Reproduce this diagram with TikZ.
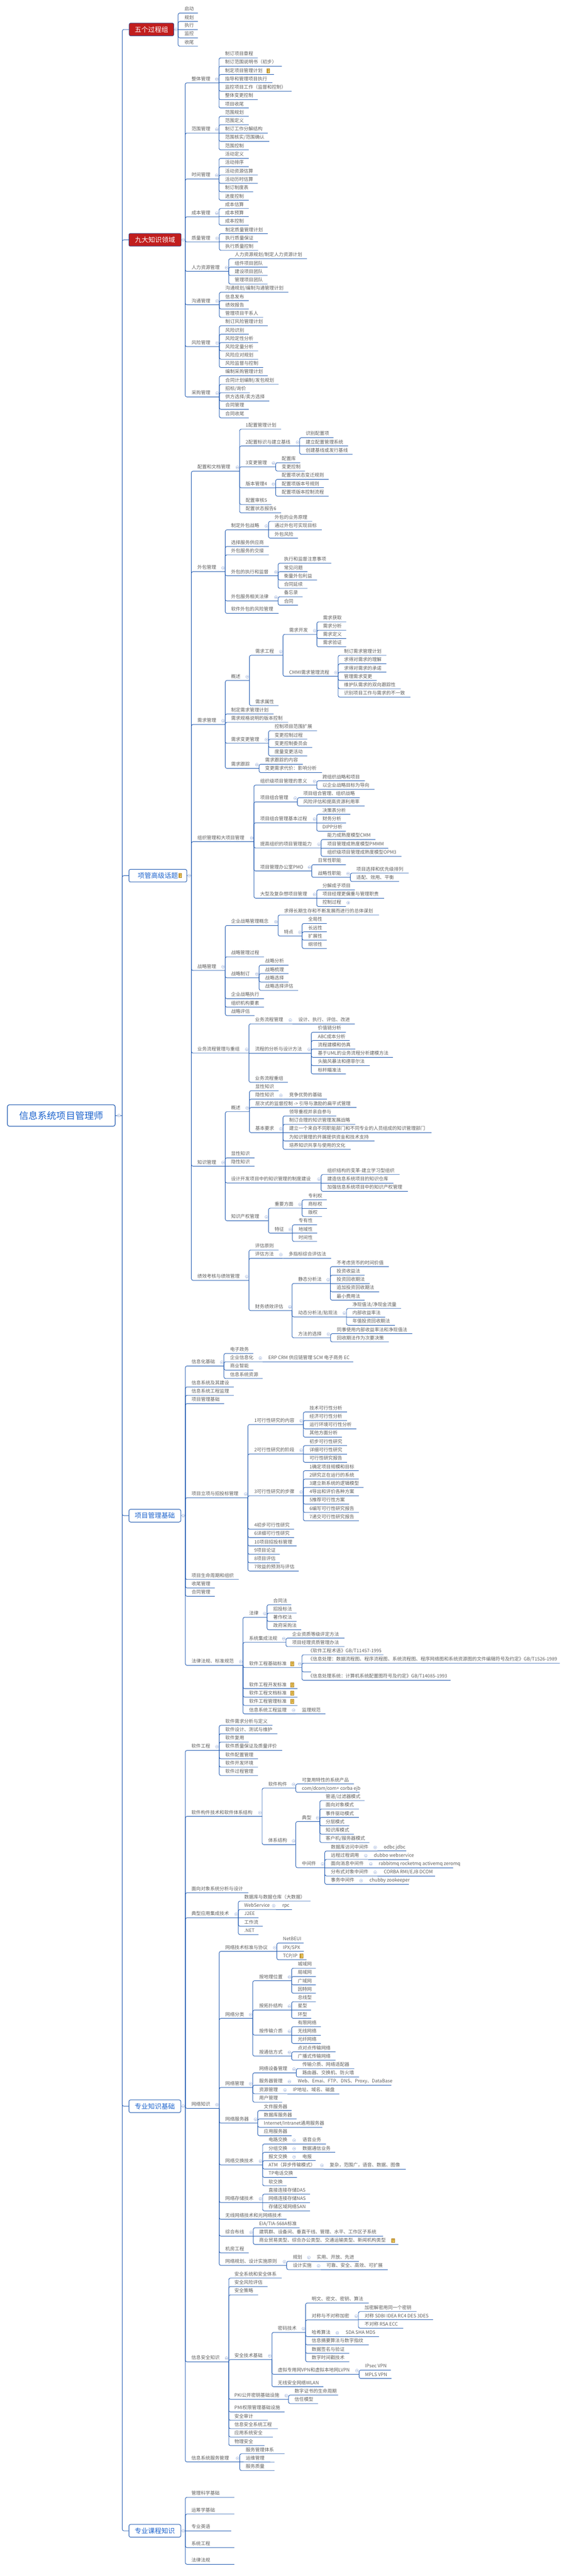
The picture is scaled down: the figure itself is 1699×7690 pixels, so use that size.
\documentclass[tikz,border=0pt]{standalone}
\usepackage{fontspec}
\setmainfont{Noto Sans CJK SC}
\definecolor{lineblue}{RGB}{30,88,176}
\definecolor{txtgray}{RGB}{95,95,95}
\definecolor{boxred}{RGB}{193,30,30}
\definecolor{boxedge}{RGB}{55,70,135}
\definecolor{boxtext}{RGB}{30,100,205}
\definecolor{circblue}{RGB}{150,172,215}
\definecolor{noteyel}{RGB}{246,214,110}
\definecolor{notebrown}{RGB}{170,120,20}
\tikzset{
  tx/.style={anchor=base west, inner sep=0pt, text=txtgray, font=\fontsize{14}{16}\selectfont},
  conn/.style={draw=lineblue, line width=1.4pt, rounded corners=5pt},
  redbox/.style={rounded corners=4pt, fill=boxred, draw=boxedge, line width=1.5pt, text=white,
    font=\fontsize{20}{22}\selectfont, minimum height=38pt, inner sep=0pt},
  bluebox/.style={rounded corners=5pt, fill=white, draw=lineblue, line width=1.5pt, text=boxtext,
    font=\fontsize{20}{22}\selectfont, minimum height=38pt, inner sep=0pt},
  rootbox/.style={rounded corners=6pt, fill=white, draw=lineblue, line width=1.8pt, text=boxtext,
    font=\fontsize{28}{30}\selectfont, minimum height=64pt, minimum width=322pt, inner sep=0pt}
}
\newdimen\kya \newdimen\kyb
\newcommand\lnd[5]{\node[tx] (#1) at (#2,#3-7) {#5};\coordinate (#1-e) at (#4,#3);}
\newcommand\ccirc[2]{\draw[circblue, fill=white, line width=0.7pt] (#1,#2) circle [radius=4.5pt];
  \draw[circblue, line width=0.8pt] (#1-2.5,#2) -- (#1+2.5,#2);}
\newcommand\pnd[5]{\lnd{#1}{#2}{#3}{#4}{#5}\ccirc{#4-6.5}{#3-11}}
\newcommand\XT{0}
\newcommand\lv[4]{\lnd{#1}{\XT}{#2}{#3}{#4}}
\newcommand\pv[4]{\pnd{#1}{\XT}{#2}{#3}{#4}}
\newcommand\kids[2]{\foreach \kk in {#2}{%
  \pgfextracty{\kya}{\pgfpointanchor{#1-e}{center}}%
  \pgfextracty{\kyb}{\pgfpointanchor{\kk-e}{center}}%
  \kya=\dimexpr\kya-\kyb\relax
  \ifdim\kya<0pt \kya=-\kya\fi
  \ifdim\kya<3pt \draw[conn] (#1-e) -- (\kk-e);\else\draw[conn] (#1-e) |- (\kk-e);\fi}}
\newcommand\notei[2]{\draw[notebrown, fill=noteyel, line width=0.8pt] (#1-4.5,#2-6) rectangle (#1+4.5,#2+6);
  \draw[notebrown, line width=0.8pt] (#1-2.5,#2-3)--(#1+2.5,#2-3) (#1-2.5,#2)--(#1+2.5,#2) (#1-2.5,#2+3)--(#1+1,#2+3);}
\begin{document}
\begin{tikzpicture}[x=1pt,y=-1pt]
\useasboundingbox (0,0) rectangle (1699,7690);
\fill[white] (0,0) rectangle (1699,7690);

% ---------------- root
\node[rootbox] (root) at (183,3330) {信息系统项目管理师};
\coordinate (root-e) at (365,3330);
\draw[conn] (root.east) -- (root-e);
\ccirc{355}{3330}

% ---------------- 五个过程组
\node[redbox, minimum width=133pt] (g1) at (452.5,88) {五个过程组};
\coordinate (g1-e) at (532,88);
\draw[conn] (g1.east) -- (g1-e); \ccirc{525.5}{88}
\renewcommand\XT{551}
\lv{qa}{39}{591}{启动}\lv{qb}{64}{591}{规划}\lv{qc}{88}{591}{执行}\lv{qd}{113}{591}{监控}\lv{qe}{138}{591}{收尾}
\kids{g1}{qa,qb,qc,qd,qe}

% ---------------- 九大知识领域
\node[redbox, minimum width=156pt] (g2) at (463,716) {九大知识领域};
\coordinate (g2-e) at (553,716);
\draw[conn] (g2.east) -- (g2-e); \ccirc{547}{716}
\renewcommand\XT{572}
\pv{za}{247.4}{654}{整体管理}\pv{zb}{397.2}{654}{范围管理}\pv{zc}{534.5}{654}{时间管理}
\pv{zd}{647.4}{654}{成本管理}\pv{ze}{722.5}{655}{质量管理}\pv{zf}{810}{683}{人力资源管理}
\pv{zg}{909.8}{655}{沟通管理}\pv{zh}{1034.8}{655}{风险管理}\pv{zi}{1184.7}{655}{采购管理}
\kids{g2}{za,zb,zc,zd,ze,zf,zg,zh,zi}
\renewcommand\XT{672}
\lv{za1}{172.7}{770}{制订项目章程}
\lv{za2}{197.6}{842}{制订范围说明书（初步）}
\lv{za3}{222.5}{818}{制定项目管理计划}\notei{801}{210.5}
\lv{za4}{247.4}{814}{指导和管理项目执行}
\lv{za5}{272.3}{871}{监控项目工作（监督和控制）}
\lv{za6}{297.6}{770}{整体变更控制}
\lv{za7}{322.5}{743}{项目收尾}
\kids{za}{za1,za2,za3,za4,za5,za6,za7}
\lv{zb1}{347.4}{743}{范围规划}\lv{zb2}{372.3}{743}{范围定义}\lv{zb3}{397.2}{800}{制订工作分解结构}
\lv{zb4}{422}{804}{范围核实/范围确认}\lv{zb5}{447.4}{743}{范围控制}
\kids{zb}{zb1,zb2,zb3,zb4,zb5}
\lv{zc1}{472.7}{743}{活动定义}\lv{zc2}{497.6}{743}{活动排序}\lv{zc3}{522.5}{770}{活动资源估算}
\lv{zc4}{547.4}{770}{活动历时估算}\lv{zc5}{572.3}{756}{制订制度表}\lv{zc6}{597.6}{743}{进度控制}
\kids{zc}{zc1,zc2,zc3,zc4,zc5,zc6}
\lv{zd1}{622.5}{743}{成本估算}\lv{zd2}{647.4}{743}{成本预算}\lv{zd3}{672.2}{743}{成本控制}
\kids{zd}{zd1,zd2,zd3}
\renewcommand\XT{673}
\lv{ze1}{697.6}{800}{制定质量管理计划}\lv{ze2}{722.5}{771}{执行质量保证}\lv{ze3}{747.4}{771}{执行质量控制}
\kids{ze}{ze1,ze2,ze3}
\renewcommand\XT{701}
\lv{zf1}{772.3}{917}{人力资源规划/制定人力资源计划}\lv{zf2}{797.6}{799}{组件项目团队}
\lv{zf3}{822.5}{799}{建设项目团队}\lv{zf4}{847.8}{799}{管理项目团队}
\kids{zf}{zf1,zf2,zf3,zf4}
\renewcommand\XT{673}
\lv{zg1}{872.3}{861}{沟通规划/编制沟通管理计划}\lv{zg2}{897.6}{743}{信息发布}
\lv{zg3}{922.5}{743}{绩效报告}\lv{zg4}{947.4}{786}{管理项目干系人}
\kids{zg}{zg1,zg2,zg3,zg4}
\lv{zh1}{972.3}{800}{制订风险管理计划}\lv{zh2}{997.6}{743}{风险识别}\lv{zh3}{1022.5}{771}{风险定性分析}
\lv{zh4}{1047.4}{771}{风险定量分析}\lv{zh5}{1072.3}{771}{风险应对规划}\lv{zh6}{1097.2}{786}{风险监督与控制}
\kids{zh}{zh1,zh2,zh3,zh4,zh5,zh6}
\lv{zi1}{1122}{800}{编制采购管理计划}\lv{zi2}{1147.4}{832}{合同计划编制/发包规划}\lv{zi3}{1172.3}{746}{招标/询价}
\lv{zi4}{1197.2}{804}{供方选择/卖方选择}\lv{zi5}{1222}{743}{合同管理}\lv{zi6}{1247.4}{743}{合同收尾}
\kids{zi}{zi1,zi2,zi3,zi4,zi5,zi6}

% ---------------- 项管高级话题
\node[bluebox, minimum width=173pt] (g3) at (471.5,2614) {项管高级话题\hspace{20pt}};
\notei{538}{2614}
\coordinate (g3-e) at (571.5,2614);
\draw[conn] (g3.east) -- (g3-e); \ccirc{565}{2614}
\renewcommand\XT{589.6}
\pv{ka}{1406.5}{715.5}{配置和文档管理}\pv{kb}{1706.4}{672.7}{外包管理}\pv{kc}{2162.6}{672.7}{需求管理}
\pv{kd}{2512.5}{758.4}{组织管理和大项目管理}\pv{ke}{2897.2}{672.7}{战略管理}
\pv{kf}{3143.7}{743.6}{业务流程管理与重组}\pv{kg}{3481.3}{672.7}{知识管理}\pv{kh}{3822}{743.6}{绩效考核与绩效管理}
\kids{g3}{ka,kb,kc,kd,ke,kf,kg,kh}
% 配置和文档管理
\renewcommand\XT{733.6}
\lv{ka1}{1281.2}{839.4}{1配置管理计划}
\pv{ka2}{1331.4}{895}{2配置标识与建立基线}
\pv{ka3}{1393.7}{823.3}{3变更管理}
\pv{ka4}{1456.3}{823.3}{版本管理4}
\lv{ka5}{1506}{810.6}{配置审核5}
\lv{ka6}{1531}{839.4}{配置状态报告6}
\kids{ka}{ka1,ka2,ka3,ka4,ka5,ka6}
\renewcommand\XT{913}
\lv{ka21}{1306.5}{996}{识别配置项}\lv{ka22}{1331.4}{1039.6}{建立配置管理系统}\lv{ka23}{1356.3}{1053}{创建基线或发行基线}
\kids{ka2}{ka21,ka22,ka23}
\renewcommand\XT{841.4}
\lv{ka31}{1381.2}{897}{配置库}\lv{ka32}{1406.1}{911}{变更控制}
\kids{ka3}{ka31,ka32}
\lv{ka41}{1431}{982}{配置项状态变迁规则}\lv{ka42}{1456.3}{968}{配置项版本号规则}\lv{ka43}{1481.2}{982}{配置项版本控制流程}
\kids{ka4}{ka41,ka42,ka43}
% 外包管理
\renewcommand\XT{690}
\pv{kb1}{1581.7}{802}{制定外包战略}
\lv{kb2}{1631.5}{803}{选择服务供应商}
\lv{kb3}{1656.4}{803}{外包服务的交接}
\pv{kb4}{1718.8}{830.7}{外包的执行和监督}
\pv{kb5}{1793.9}{830.7}{外包服务相关法律}
\lv{kb6}{1831}{832}{软件外包的风险管理}
\kids{kb}{kb1,kb2,kb3,kb4,kb5,kb6}
\renewcommand\XT{820}
\lv{kb11}{1556.4}{932.5}{外包的业务原理}\lv{kb12}{1581.7}{960.6}{通过外包可实现目标}\lv{kb13}{1606.6}{890}{外包风险}
\kids{kb1}{kb11,kb12,kb13}
\renewcommand\XT{848}
\lv{kb41}{1681.3}{989.4}{执行和监督注意事项}\lv{kb42}{1706.6}{918.4}{常见问题}
\lv{kb43}{1731.5}{947}{衡量外包利益}\lv{kb44}{1756.4}{918.4}{合同延续}
\kids{kb4}{kb41,kb42,kb43,kb44}
\lv{kb51}{1781.3}{903.7}{备忘录}\lv{kb52}{1806.6}{890}{合同}
\kids{kb5}{kb51,kb52}
% 需求管理
\renewcommand\XT{690}
\pv{kc1}{2031.4}{745}{概述}
\lv{kc2}{2131.4}{817.3}{制定需求管理计划}
\lv{kc3}{2156.3}{860.8}{需求规格说明的版本控制}
\pv{kc4}{2218.9}{802}{需求变更管理}
\pv{kc5}{2293.8}{773.8}{需求跟踪}
\kids{kc}{kc1,kc2,kc3,kc4,kc5}
\renewcommand\XT{762.4}
\pv{kc11}{1956.2}{845.4}{需求工程}
\lv{kc12}{2106.6}{832}{需求属性}
\kids{kc1}{kc11,kc12}
\renewcommand\XT{863.5}
\pv{kc111}{1893.7}{946.5}{需求开发}
\pv{kc112}{2018.75}{1010}{CMMI需求管理流程}
\kids{kc11}{kc111,kc112}
\renewcommand\XT{964.6}
\lv{kc1111}{1856.4}{1034}{需求获取}\lv{kc1112}{1881.3}{1034}{需求分析}\lv{kc1113}{1906.2}{1034}{需求定义}\lv{kc1114}{1931}{1034}{需求验证}
\kids{kc111}{kc1111,kc1112,kc1113,kc1114}
\renewcommand\XT{1027.5}
\lv{kc1121}{1956.3}{1154}{制订需求管理计划}\lv{kc1122}{1981.6}{1154}{求得对需求的理解}
\lv{kc1123}{2006.5}{1154}{求得对需求的承诺}\lv{kc1124}{2031.4}{1125.3}{管理需求变更}
\lv{kc1125}{2056.3}{1197}{维护队需求的双向跟踪性}\lv{kc1126}{2081.2}{1225.8}{识别项目工作与需求的不一致}
\kids{kc112}{kc1121,kc1122,kc1123,kc1124,kc1125,kc1126}
\renewcommand\XT{820}
\lv{kc41}{2181.3}{947}{控制项目范围扩展}\lv{kc42}{2206.6}{917.7}{变更控制过程}
\lv{kc43}{2231.5}{932.5}{变更控制委员会}\lv{kc44}{2256.4}{917.7}{度量变更活动}
\kids{kc4}{kc41,kc42,kc43,kc44}
\renewcommand\XT{791.8}
\lv{kc51}{2281.3}{904.3}{需求跟踪的内容}\lv{kc52}{2306.2}{962}{变更需求代价：影响分析}
\kids{kc5}{kc51,kc52}
% 组织管理和大项目管理
\renewcommand\XT{777}
\pv{kd1}{2343.7}{946}{组织级项目管理的意义}
\pv{kd2}{2393.8}{888.3}{项目组合管理}
\pv{kd3}{2456.4}{946}{项目组合管理基本过程}
\pv{kd4}{2531.5}{959.2}{提高组织的项目管理能力}
\pv{kd5}{2600.1}{931}{项目管理办公室PMO}
\pv{kd6}{2681.2}{946}{大型及复杂想项目管理}
\kids{kd}{kd1,kd2,kd3,kd4,kd5,kd6}
\renewcommand\XT{963}
\lv{kd11}{2331}{1090}{跨组织战略和项目}\lv{kd12}{2356.4}{1118.6}{以企业战略目标为导向}
\kids{kd1}{kd11,kd12}
\renewcommand\XT{905.7}
\lv{kd21}{2381.3}{1074.4}{项目组合管理、组织战略}\lv{kd22}{2406.2}{1089}{风险评估和提高资源利用率}
\kids{kd2}{kd21,kd22}
\renewcommand\XT{963}
\lv{kd31}{2431}{1046.3}{决策表分析}\lv{kd32}{2456.4}{1033}{财务分析}\lv{kd33}{2481.3}{1033}{DIPP分析}
\kids{kd3}{kd31,kd32,kd33}
\renewcommand\XT{977.3}
\lv{kd41}{2506.2}{1121.3}{能力成熟度模型CMM}\lv{kd42}{2531.5}{1160}{项目管理成熟度模型PMMM}
\lv{kd43}{2556.4}{1199}{组织级项目管理成熟度模型OPM3}
\kids{kd4}{kd41,kd42,kd43}
\renewcommand\XT{949.2}
\lv{kd51}{2581.2}{1033}{日常性职能}\pv{kd52}{2619}{1046.3}{战略性职能}
\kids{kd5}{kd51,kd52}
\renewcommand\XT{1064.4}
\lv{kd521}{2606.5}{1220.4}{项目选择和优先级排列}\lv{kd522}{2631.4}{1191.6}{适配、效用、平衡}
\kids{kd52}{kd521,kd522}
\renewcommand\XT{963}
\lv{kd61}{2656.3}{1060}{分解成子项目}\lv{kd62}{2681.2}{1147.4}{项目经理更偏重与管理职责}\lv{kd63}{2706.1}{1033}{控制过程}
\kids{kd6}{kd61,kd62,kd63}
\draw[circblue, fill=white, line width=0.7pt] (1040,2695) circle [radius=4.5pt];
\draw[circblue, line width=0.8pt] (1037.5,2695) -- (1042.5,2695) (1040,2692.5) -- (1040,2697.5);
% 战略管理
\renewcommand\XT{690}
\pv{ke1}{2762.8}{830.7}{企业战略管理概念}
\lv{ke2}{2856.4}{788.5}{战略管理过程}
\pv{ke3}{2918.9}{773.8}{战略制订}
\lv{ke4}{2981.3}{788.5}{企业战略执行}
\lv{ke5}{3006.6}{788.5}{组织机构要素}
\lv{ke6}{3031.5}{760.4}{战略评估}
\kids{ke}{ke1,ke2,ke3,ke4,ke5,ke6}
\renewcommand\XT{848}
\lv{ke11}{2731.4}{1132}{求得长期生存和不断发展而进行的总体谋划}\pv{ke12}{2794.2}{902.3}{特点}
\kids{ke1}{ke11,ke12}
\renewcommand\XT{920.4}
\lv{ke121}{2756.8}{976}{全局性}\lv{ke122}{2781.7}{976}{长远性}\lv{ke123}{2806.6}{976}{扩展性}\lv{ke124}{2831.5}{976}{纲领性}
\kids{ke12}{ke121,ke122,ke123,ke124}
\renewcommand\XT{791.8}
\lv{ke31}{2881.3}{862}{战略分析}\lv{ke32}{2906.6}{862}{战略梳理}\lv{ke33}{2931.5}{862}{战略选择}\lv{ke34}{2956.4}{890.3}{战略选择评估}
\kids{ke3}{ke31,ke32,ke33,ke34}
% 业务流程管理与重组
\renewcommand\XT{761.7}
\pv{kf1}{3056.4}{873.5}{业务流程管理}
\pv{kf2}{3143.7}{929.8}{流程的分析与设计方法}
\lv{kf3}{3231}{859.5}{业务流程重组}
\kids{kf}{kf1,kf2,kf3}
\lnd{kf11}{891}{3056.4}{1059.7}{设计、执行、评估、改进}
\kids{kf1}{kf11}
\renewcommand\XT{949.2}
\lv{kf21}{3081.3}{1033}{价值链分析}\lv{kf22}{3106.2}{1044.3}{ABC成本分析}\lv{kf23}{3131.5}{1061}{流程建模和仿真}
\lv{kf24}{3156.4}{1173.5}{基于UML的业务流程分析建模方法}\lv{kf25}{3181.3}{1104.5}{头脑风暴法和德菲尔法}\lv{kf26}{3206.1}{1033}{标杆瞄准法}
\kids{kf2}{kf21,kf22,kf23,kf24,kf25,kf26}
% 知识管理
\renewcommand\XT{690}
\pv{kg1}{3318.6}{745}{概述}
\lv{kg2}{3456.3}{760.4}{显性知识}
\lv{kg3}{3481.2}{760.4}{隐性知识}
\pv{kg4}{3531.3}{959.2}{设计开发项目中的知识管理的制度建设}
\pv{kg5}{3644}{802}{知识产权管理}
\kids{kg}{kg1,kg2,kg3,kg4,kg5}
\renewcommand\XT{762.4}
\lv{kg11}{3256}{832}{显性知识}
\pv{kg12}{3281.2}{845.4}{隐性知识}
\lv{kg13}{3306.1}{1065}{层次式的监督控制 -> 引导与激励的扁平式管理}
\pv{kg14}{3381.2}{845.4}{基本要求}
\kids{kg1}{kg11,kg12,kg13,kg14}
\lnd{kg121}{863.5}{3281.2}{976}{竞争优势的基础}
\kids{kg12}{kg121}
\renewcommand\XT{863.5}
\lv{kg141}{3331.4}{1004}{领导重视并亲自参与}\lv{kg142}{3356.3}{1061}{制订合理的知识管理发展战略}
\lv{kg143}{3381.2}{1289.4}{建立一个来自不同职能部门和不同专业的人员组成的知识管理部门}
\lv{kg144}{3406.1}{1118.6}{为知识管理的开展提供资金和技术支持}\lv{kg145}{3431}{1047.6}{培养知识共享与使用的文化}
\kids{kg14}{kg141,kg142,kg143,kg144,kg145}
\renewcommand\XT{977.3}
\lv{kg41}{3506.2}{1193.6}{组织结构的变革-建立学习型组织}\lv{kg42}{3531.3}{1175.6}{建造信息系统项目的知识仓库}
\lv{kg43}{3556.4}{1218.4}{加强信息系统项目中的知识产权管理}
\kids{kg4}{kg41,kg42,kg43}
\renewcommand\XT{820}
\pv{kg51}{3606.6}{902.3}{重要方面}\pv{kg52}{3681.3}{873.5}{特征}
\kids{kg5}{kg51,kg52}
\renewcommand\XT{920.4}
\lv{kg511}{3581.7}{976}{专利权}\lv{kg512}{3606.6}{976}{商标权}\lv{kg513}{3631.5}{962}{版权}
\kids{kg51}{kg511,kg512,kg513}
\renewcommand\XT{891.6}
\lv{kg521}{3656.4}{947}{专有性}\lv{kg522}{3681.3}{947}{地域性}\lv{kg523}{3706.2}{947}{时间性}
\kids{kg52}{kg521,kg522,kg523}
% 绩效考核与绩效管理
\renewcommand\XT{761.7}
\lv{kh1}{3731.5}{832}{评估原则}
\pv{kh2}{3756.4}{845.4}{评估方法}
\pv{kh3}{3912.5}{872.3}{财务绩效评估}
\kids{kh}{kh1,kh2,kh3}
\lnd{kh21}{862}{3756.4}{989.4}{多指标综合评估法}
\kids{kh2}{kh21}
\renewcommand\XT{890.5}
\pv{kh31}{3831.3}{986.7}{静态分析法}\pv{kh32}{3931.2}{1035}{动态分析法/贴现法}\pv{kh33}{3993.7}{987.3}{方法的选择}
\kids{kh3}{kh31,kh32,kh33}
\renewcommand\XT{1005.5}
\lv{kh311}{3781.3}{1161.5}{不考虑货币的时间价值}\lv{kh312}{3806.6}{1089}{投资收益法}\lv{kh313}{3831.3}{1104.5}{投资回收期法}
\lv{kh314}{3856.3}{1132.5}{追加投资回收期法}\lv{kh315}{3881.2}{1089}{最小费用法}
\kids{kh31}{kh311,kh312,kh313,kh314,kh315}
\renewcommand\XT{1052.6}
\lv{kh321}{3906.1}{1197.8}{净现值法/净现金流量}\lv{kh322}{3931.2}{1150}{内部收益率法}\lv{kh323}{3956.3}{1179.5}{年值投资回收期法}
\kids{kh32}{kh321,kh322,kh323}
\renewcommand\XT{1006.3}
\lv{kh331}{3981.2}{1231.4}{同事使用内部收益率法和净现值法}\lv{kh332}{4006.1}{1161.3}{回收期法作为次要决策}
\kids{kh33}{kh331,kh332}

% ---------------- 项目管理基础
\node[bluebox, minimum width=155pt] (g4) at (462.5,4524.6) {项目管理基础};
\coordinate (g4-e) at (553.6,4524.6);
\draw[conn] (g4.east) -- (g4-e); \ccirc{547}{4524.6}
\renewcommand\XT{572}
\pv{ma}{4077.8}{668.8}{信息化基础}
\lv{mb}{4140.4}{698.3}{信息系统及其建设}
\lv{mc}{4165.3}{698.3}{信息系统工程监理}
\lv{md}{4190.2}{669.5}{项目管理基础}
\pv{me}{4471.2}{740.4}{项目立项与招投标管理}
\lv{mf}{4715.1}{713.2}{项目生命周期和组织}
\lv{mg}{4740.3}{641.4}{收尾管理}
\lv{mh}{4765.2}{641.4}{合同管理}
\pv{mi}{4971.5}{725.7}{法律法规、标准规范}
\kids{g4}{ma,mb,mc,md,me,mf,mg,mh,mi}
\renewcommand\XT{687}
\lv{ma1}{4040.4}{756.5}{电子政务}\pv{ma2}{4065.3}{784}{企业信息化}\lv{ma3}{4090.2}{756.5}{商业智能}\lv{ma4}{4115.3}{784.6}{信息系统资源}
\kids{ma}{ma1,ma2,ma3,ma4}
\lnd{ma21}{801.4}{4065.3}{1055.4}{ERP CRM 供应链管理 SCM 电子商务 EC}
\kids{ma2}{ma21}
\renewcommand\XT{759.3}
\pv{me1}{4252.6}{906}{1可行性研究的内容}
\pv{me2}{4340.4}{906}{2可行性研究的阶段}
\pv{me3}{4465.2}{906}{3可行性研究的步骤}
\lv{me4}{4565}{878.2}{4初步可行性研究}
\lv{me5}{4590}{878.2}{6详细可行性研究}
\lv{me6}{4615}{885.6}{10项目招投标管理}
\lv{me7}{4640}{835.7}{9项目论证}
\lv{me8}{4665}{835.7}{8项目评估}
\lv{me9}{4689.8}{892.2}{7效益的预测与评估}
\kids{me}{me1,me2,me3,me4,me5,me6,me7,me8,me9}
\renewcommand\XT{924.2}
\lv{me11}{4215.1}{1036.4}{技术可行性分析}\lv{me12}{4240.4}{1036.4}{经济可行性分析}
\lv{me13}{4265.3}{1064.5}{运行环境可行性分析}\lv{me14}{4290.2}{1021}{其他方面分析}
\kids{me1}{me11,me12,me13,me14}
\lv{me21}{4315.5}{1036.4}{初步可行性研究}\lv{me22}{4340.4}{1036.4}{详细可行性研究}\lv{me23}{4365.4}{1036.4}{可行性研究报告}
\kids{me2}{me21,me22,me23}
\lv{me31}{4390.3}{1071.5}{1确定项目规模和目标}\lv{me32}{4415.3}{1071.5}{2研究正在运行的系统}
\lv{me33}{4440.3}{1085.5}{3建立新系统的逻辑模型}\lv{me34}{4465.2}{1071.5}{4导出和评价各种方案}
\lv{me35}{4490.2}{1043}{5推荐可行性方案}\lv{me36}{4515.1}{1071.8}{6编写可行性研究报告}\lv{me37}{4540}{1071.8}{7递交可行性研究报告}
\kids{me3}{me31,me32,me33,me34,me35,me36,me37}
\renewcommand\XT{744}
\pv{mi1}{4827.8}{797.6}{法律}
\pv{mi2}{4902.7}{854}{系统集成法规}
\pv{mi3}{4978}{901.7}{软件工程基础标准}\notei{872.4}{4966}
\lv{mi4}{5041}{888.5}{软件工程开发标准}\notei{872.4}{5029}
\lv{mi5}{5066.2}{888.5}{软件工程文档标准}\notei{872.4}{5054.2}
\lv{mi6}{5091.1}{888.5}{软件工程管理标准}\notei{872.4}{5079.1}
\pv{mi7}{5116.3}{883.4}{信息系统工程监理}
\kids{mi}{mi1,mi2,mi3,mi4,mi5,mi6,mi7}
\renewcommand\XT{816}
\lv{mi11}{4790.5}{870}{合同法}\lv{mi12}{4815.4}{885.6}{招投标法}\lv{mi13}{4840.3}{885.6}{著作权法}\lv{mi14}{4865.2}{899.5}{政府采购法}
\kids{mi1}{mi11,mi12,mi13,mi14}
\renewcommand\XT{872.4}
\lv{mi21}{4890.1}{1028.6}{企业资质等级评定方法}\lv{mi22}{4915.4}{1028.6}{项目经理资质管理办法}
\kids{mi2}{mi21,mi22}
\renewcommand\XT{920}
\lv{mi31}{4940}{1145.2}{《软件工程术语》GB/T11457-1995}
\lv{mi32}{4965}{1672}{《信息处理：数据流程图、程序流程图、系统流程图、程序网络图和系统资源图的文件编辑符号及约定》GB/T1526-1989}
\lv{mi33}{4991}{929}{}
\lv{mi34}{5016}{1345.4}{《信息处理系统：计算机系统配置图符号及约定》GB/T14085-1993}
\kids{mi3}{mi31,mi32,mi33,mi34}
\lnd{mi71}{901.7}{5116.3}{971.4}{监理规范}
\kids{mi7}{mi71}

% ---------------- 专业知识基础
\node[bluebox, minimum width=155pt] (g5) at (462.5,6287.5) {专业知识基础};
\coordinate (g5-e) at (553.4,6287.5);
\draw[conn] (g5.east) -- (g5-e); \ccirc{547}{6287.5}
\renewcommand\XT{571.7}
\pv{na}{5225.3}{654.6}{软件工程}
\pv{nb}{5422.3}{782.9}{软件构件技术和软件体系结构}
\lv{nc}{5650.3}{741.8}{面向对象系统分析与设计}
\pv{nd}{5725.2}{711.8}{典型应用集成技术}
\pv{ne}{6294}{654.6}{网络知识}
\pv{nf}{7050.6}{683.2}{信息安全知识}
\pv{ng}{7349.5}{716}{信息系统服务管理}
\kids{g5}{na,nb,nc,nd,ne,nf,ng}
\renewcommand\XT{673}
\lv{na1}{5150.5}{813.7}{软件需求分析与定义}\lv{na2}{5175.4}{828.4}{软件设计、测试与维护}\lv{na3}{5200.3}{742.6}{软件复用}
\lv{na4}{5225.3}{843}{软件质量保证及质量评价}\lv{na5}{5250.4}{770.4}{软件配置管理}\lv{na6}{5275.3}{770.4}{软件开发环境}
\lv{na7}{5300.2}{770.4}{软件过程管理}
\kids{na}{na1,na2,na3,na4,na5,na6,na7}
\renewcommand\XT{801.2}
\pv{nb1}{5337.9}{883.4}{软件构件}\pv{nb2}{5506.6}{883.4}{体系结构}
\kids{nb}{nb1,nb2}
\renewcommand\XT{901.7}
\lv{nb11}{5325.5}{1057.2}{可复用特性的系统产品}\lv{nb12}{5350.4}{1074}{com/dcom/com+ corba ejb}
\kids{nb1}{nb11,nb12}
\pv{nb21}{5437.8}{955.2}{典型}\pv{nb22}{5575.4}{970}{中间件}
\kids{nb2}{nb21,nb22}
\renewcommand\XT{972.8}
\lv{nb211}{5375.3}{1088.7}{管道/过滤器模式}\lv{nb212}{5400.2}{1071.8}{面向对象模式}\lv{nb213}{5425.5}{1071.8}{事件驱动模式}
\lv{nb214}{5450.4}{1043.3}{分层模式}\lv{nb215}{5475.3}{1057.2}{知识库模式}\lv{nb216}{5500.2}{1103.4}{客户机/服务器模式}
\kids{nb21}{nb211,nb212,nb213,nb214,nb215,nb216}
\renewcommand\XT{988.3}
\pv{nb221}{5525.8}{1127}{数据库访问中间件}\pv{nb222}{5550.6}{1099}{远程过程调用}\pv{nb223}{5575.4}{1114}{面向消息中间件}
\pv{nb224}{5600.2}{1127}{分布式对象中间件}\pv{nb225}{5625.1}{1085}{事务中间件}
\kids{nb22}{nb221,nb222,nb223,nb224,nb225}
\lnd{nb2211}{1146}{5525.8}{1213.4}{odbc jdbc}\kids{nb221}{nb2211}
\lnd{nb2221}{1116.6}{5550.6}{1221}{dubbo webservice}\kids{nb222}{nb2221}
\lnd{nb2231}{1131.3}{5575.4}{1354}{rabbitmq rocketmq activemq zeromq}\kids{nb223}{nb2231}
\lnd{nb2241}{1146}{5600.2}{1300}{CORBA RMI/EJB DCOM}\kids{nb224}{nb2241}
\lnd{nb2251}{1103.4}{5625.1}{1220.7}{chubby zookeeper}\kids{nb225}{nb2251}
\renewcommand\XT{729.4}
\lv{nd1}{5675.2}{927.4}{数据库与数据仓库（大数据）}\pv{nd2}{5700.1}{824}{WebService}\lv{nd3}{5725.2}{772}{J2EE}
\lv{nd4}{5750.3}{785}{工作流}\lv{nd5}{5775.2}{772}{.NET}
\kids{nd}{nd1,nd2,nd3,nd4,nd5}
\lnd{nd21}{843}{5700.1}{872.4}{rpc}\kids{nd2}{nd21}
% 网络知识
\renewcommand\XT{673}
\pv{ne1}{5825.3}{826.9}{网络技术标准与协议}
\pv{ne2}{6025.3}{755}{网络分类}
\pv{ne3}{6231.6}{755}{网络管理}
\pv{ne4}{6337.9}{769.7}{网络服务器}
\pv{ne5}{6462.7}{784.4}{网络交换技术}
\pv{ne6}{6575.1}{784.4}{网络存储技术}
\lv{ne7}{6625.1}{856.2}{无线网络技术和光网络技术}
\pv{ne8}{6675.3}{756.5}{综合布线}
\lv{ne9}{6725.4}{742.6}{机房工程}
\pv{ne10}{6762.8}{856.2}{网络规划、设计实施原则}
\kids{ne}{ne1,ne2,ne3,ne4,ne5,ne6,ne7,ne8,ne9,ne10}
\renewcommand\XT{845.2}
\lv{ne11}{5800.4}{906.9}{NetBEUI}\lv{ne12}{5825.3}{906.9}{IPX/SPX}\lv{ne13}{5850.3}{915.6}{TCP/IP}\notei{899.5}{5838.3}
\kids{ne1}{ne11,ne12,ne13}
\renewcommand\XT{774}
\pv{ne21}{5912.9}{871}{按地理位置}\pv{ne22}{6000.4}{871}{按拓扑结构}\pv{ne23}{6075.2}{871}{按传输介质}\pv{ne24}{6137.8}{871}{按通信方式}
\kids{ne2}{ne21,ne22,ne23,ne24}
\renewcommand\XT{889.2}
\lv{ne211}{5875.5}{943.5}{城域网}\lv{ne212}{5900.4}{943.5}{局域网}\lv{ne213}{5925.3}{943.5}{广域网}\lv{ne214}{5950.2}{943.5}{因特网}
\kids{ne21}{ne211,ne212,ne213,ne214}
\lv{ne221}{5975.5}{943.5}{总线型}\lv{ne222}{6000.4}{929.6}{星型}\lv{ne223}{6025.3}{929.6}{环型}
\kids{ne22}{ne221,ne222,ne223}
\lv{ne231}{6050.2}{958.2}{有限网络}\lv{ne232}{6075.2}{958.2}{无线网络}\lv{ne233}{6100.1}{958.2}{光纤网络}
\kids{ne23}{ne231,ne232,ne233}
\lv{ne241}{6125.3}{1002.2}{点对点传输网络}\lv{ne242}{6150.2}{1002.2}{广播式传输网络}
\kids{ne24}{ne241,ne242}
\renewcommand\XT{774}
\pv{ne31}{6187.9}{884.8}{网络设备管理}\pv{ne32}{6225}{871}{服务器管理}\pv{ne33}{6250.3}{857.7}{资源管理}\lv{ne34}{6275.4}{843}{用户管理}
\kids{ne3}{ne31,ne32,ne33,ne34}
\renewcommand\XT{903.2}
\lv{ne311}{6175.4}{1058}{传输介质、网络适配器}\lv{ne312}{6200.3}{1072.6}{路由器、交换机、防火墙}
\kids{ne31}{ne311,ne312}
\lnd{ne321}{889.2}{6225}{1169.4}{Web、Emai、FTP、DNS、Proxy、DataBase}\kids{ne32}{ne321}
\lnd{ne331}{874.6}{6250.3}{1013.2}{IP地址、域名、磁盘}\kids{ne33}{ne331}
\renewcommand\XT{788}
\lv{ne41}{6300.6}{871}{文件服务器}\lv{ne42}{6325.5}{885.6}{数据库服务器}\lv{ne43}{6350.4}{962.6}{Internet/Intranet通用服务器}\lv{ne44}{6375.4}{871}{应用服务器}
\kids{ne4}{ne41,ne42,ne43,ne44}
\renewcommand\XT{802}
\pv{ne51}{6400.3}{885}{电路交换}\pv{ne52}{6425.2}{885}{分组交换}\pv{ne53}{6450.1}{885}{报文交换}
\pv{ne54}{6475.1}{968}{ATM（异步传输模式）}\lv{ne55}{6500.2}{887}{TP电话交换}\lv{ne56}{6525.2}{856.2}{软交换}
\kids{ne5}{ne51,ne52,ne53,ne54,ne55,ne56}
\lnd{ne511}{903.2}{6400.3}{972.8}{语音业务}\kids{ne51}{ne511}
\lnd{ne521}{903.2}{6425.2}{1000.7}{数据通信业务}\kids{ne52}{ne521}
\lnd{ne531}{903.2}{6450.1}{943.5}{电报}\kids{ne53}{ne531}
\lnd{ne541}{984.6}{6475.1}{1212}{复杂，范围广，语音、数据、图像}\kids{ne54}{ne541}
\lv{ne61}{6550}{926}{直接连接存储DAS}\lv{ne62}{6575.1}{926}{网络连接存储NAS}\lv{ne63}{6600.2}{926}{存储区域网络SAN}
\kids{ne6}{ne61,ne62,ne63}
\renewcommand\XT{774}
\lv{ne81}{6650.4}{894.4}{EIA/TIA-568A标准}\lv{ne82}{6675.3}{1143.7}{建筑群、设备间、垂直干线、管理、水平、工作区子系统}
\lv{ne83}{6700.2}{1190}{商业贸易类型、综合办公类型、交通运输类型、新闻机构类型}\notei{1174.5}{6688.2}
\kids{ne8}{ne81,ne82,ne83}
\renewcommand\XT{874.6}
\pv{ne101}{6750.3}{929}{规划}\pv{ne102}{6775.2}{958}{设计实施}
\kids{ne10}{ne101,ne102}
\lnd{ne1011}{945.7}{6750.3}{1072.6}{实用、开放、先进}\kids{ne101}{ne1011}
\lnd{ne1021}{975}{6775.2}{1158.4}{可靠、安全、高效、可扩展}\kids{ne102}{ne1021}
% 信息安全知识
\renewcommand\XT{700}
\lv{nf1}{6800.5}{841.6}{安全系统和安全体系}
\lv{nf2}{6825.7}{799}{安全风险评估}
\lv{nf3}{6850.6}{771.2}{安全策略}
\pv{nf4}{7043.8}{812.2}{安全技术基础}
\pv{nf5}{7162.5}{861.4}{PKI公开密钥基础设施}
\lv{nf6}{7200}{850}{PMI权限管理基础设施}
\lv{nf7}{7225}{800}{安全审计}
\lv{nf8}{7250}{830}{信息安全系统工程}
\lv{nf9}{7275}{815}{应用系统安全}
\lv{nf10}{7300.7}{790}{物理安全}
\kids{nf}{nf1,nf2,nf3,nf4,nf5,nf6,nf7,nf8,nf9,nf10}
\renewcommand\XT{829.8}
\pv{nf41}{6962.6}{912.7}{密码技术}
\pv{nf42}{7087.8}{1072.6}{虚拟专用网VPN和虚拟本地网LVPN}
\lv{nf43}{7125}{965.5}{无线安全网络WLAN}
\kids{nf4}{nf41,nf42,nf43}
\renewcommand\XT{931}
\lv{nf411}{6874.9}{1101.2}{明文、密文、密钥、算法}
\pv{nf412}{6925.4}{1070.4}{对称与不对称加密}
\pv{nf413}{6975.2}{1014}{哈希算法}
\lv{nf414}{7000.1}{1101.2}{信息摘要算法与数字指纹}
\lv{nf415}{7025.4}{1043.3}{数据签名与验证}
\lv{nf416}{7050.3}{1043.3}{数字时间戳技术}
\kids{nf41}{nf411,nf412,nf413,nf414,nf415,nf416}
\renewcommand\XT{1088.7}
\lv{nf4121}{6900.5}{1244.2}{加密解密用同一个密钥}\lv{nf4122}{6925.4}{1294}{对称 SDBI IDEA RC4 DES 3DES}\lv{nf4123}{6950.3}{1204.6}{不对称 RSA ECC}
\kids{nf412}{nf4121,nf4122,nf4123}
\lnd{nf4131}{1032.3}{6975.2}{1131.3}{SDA SHA MD5}\kids{nf413}{nf4131}
\renewcommand\XT{1090.2}
\lv{nf421}{7075.2}{1167.2}{IPsec VPN}\lv{nf422}{7100.4}{1169.4}{MPLS VPN}
\kids{nf42}{nf421,nf422}
\renewcommand\XT{879.7}
\lv{nf51}{7150}{1010}{数字证书的生命周期}\lv{nf52}{7175}{950}{信任模型}
\kids{nf5}{nf51,nf52}
\renewcommand\XT{734}
\lv{ng1}{7325}{850}{服务管理体系}\lv{ng2}{7350}{820}{运维管理}\lv{ng3}{7375}{820}{服务质量}
\kids{ng}{ng1,ng2,ng3}

% ---------------- 专业课程知识
\node[bluebox, minimum width=155pt] (g6) at (462.5,7555) {专业课程知识};
\coordinate (g6-e) at (553.4,7555);
\draw[conn] (g6.east) -- (g6-e); \ccirc{547}{7555}
\renewcommand\XT{571.7}
\lv{pa}{7455}{700}{管理科学基础}\lv{pb}{7505}{700}{运筹学基础}\lv{pc}{7555}{690}{专业英语}
\lv{pd}{7605}{700}{系统工程}\lv{pe}{7655}{700}{法律法规}
\kids{g6}{pa,pb,pc,pd,pe}

% root connections
\foreach \g in {g1,g2,g3,g4,g5,g6}{\draw[conn] (root-e) |- (\g.west);}
\end{tikzpicture}
\end{document}
